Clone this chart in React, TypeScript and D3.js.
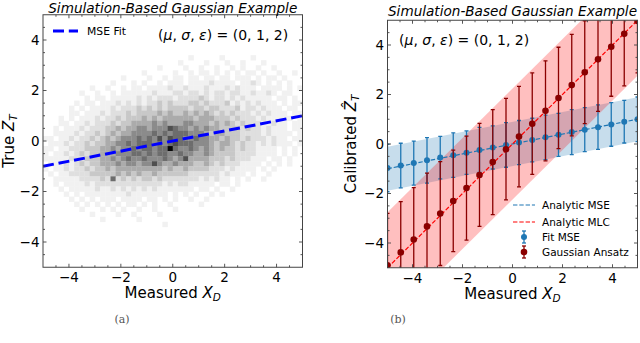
import React from 'react';
import * as d3 from 'd3';

// grid of measured values used for both fits (right panel)
const xGrid = [-5, -4.47, -3.95, -3.42, -2.89, -2.37, -1.84, -1.32, -0.79, -0.26, 0.26, 0.79, 1.32, 1.84, 2.37, 2.89, 3.42, 3.95, 4.47, 5];
const fitMse = [-0.97, -0.87, -0.77, -0.66, -0.55, -0.45, -0.35, -0.24, -0.14, -0.04, 0.06, 0.16, 0.27, 0.37, 0.48, 0.58, 0.68, 0.79, 0.9, 1.0];
const fitMseErr = [0.96, 0.9, 0.89, 0.92, 0.86, 0.9, 0.88, 0.91, 0.87, 0.9, 0.89, 0.88, 0.9, 0.87, 0.91, 0.89, 0.9, 0.88, 0.86, 0.9];
const ansatz = [-4.9, -4.38, -3.86, -3.33, -2.81, -2.3, -1.78, -1.25, -0.73, -0.21, 0.3, 0.82, 1.34, 1.86, 2.38, 2.9, 3.42, 3.93, 4.45, 4.97];
const ansatzErr = [2.1, 2.05, 2.1, 2.15, 2.1, 2.05, 2.1, 2.08, 2.12, 2.05, 2.03, 2.05, 2.02, 2.05, 2.05, 2.08, 2.1, 2.0, 2.1, 2.1];

// analytic curves and their bands
const analyticX = [-5, 5];
const analyticMse = [-1, 1];
const analyticMlc = [-5, 5];
const mseBandHalf = 0.89;
const mlcBandHalf = 2.24;

// MSE fit line on the left panel
const mseFitX = [-5, 5];
const mseFitY = [-1, 1];

const majorTicks = [-4, -2, 0, 2, 4];
const minorTicks = [-4.5, -3.5, -3, -2.5, -1.5, -1, -0.5, 0.5, 1, 1.5, 2.5, 3, 3.5, 4.5];

// 2D histogram, rows from top (y=3.4) downward, 50 bins of 0.2 across x in [-5,5]; digit = shade 0..9
const histTop = 3.4;
const histLeft = -5;
const histBin = 0.2;
const histRows = [
  '0000000000 0000000000 0000000010 0000100000 1000000000',
  '0000000000 0000000000 0000001000 0100010010 0010000000',
  '0000000000 0000000000 0010000100 1001001010 0100100000',
  '0000000000 0000000001 0000010010 1101010101 1010010010',
  '0000000000 0000010000 1001011011 0110110111 0101101000',
  '0000000000 0001000101 0010111011 1121111011 2101010100',
  '0000000001 0010010110 1111211211 1211121211 1011110101',
  '0000000100 1001011111 1211122122 1212212211 2112101100',
  '0000000010 1101111121 2122212222 3212212121 1111011010',
  '0000001011 0111212121 2232322233 2322231212 1211101011',
  '0000010101 1112122232 3232333323 3233222312 2121110110',
  '0000011011 1212223233 3343433434 3432323222 1212111011',
  '0001010111 2122323334 3434444443 4443332322 2121111101',
  '0001101121 2223233444 4545444554 4434343232 2211211011',
  '0010111212 2233434455 4555765545 4544333323 2212111011',
  '0011112122 3234344555 5656566655 5434433322 2212111101',
  '1101121223 2343455565 6575766556 5544343323 2221211011',
  '0111212232 3344556566 6565676665 5543443232 2121211101',
  '1101122233 3445455656 6566965565 4543433232 2111101010',
  '1011212323 3444555665 6566556554 4543333222 2111101010',
  '1111122233 3445456556 5556545744 4433323222 1110110100',
  '0111212323 3444545545 5754454443 3432322211 1101010100',
  '1011212232 3343444444 4443433433 3322212111 1010100000',
  '0101122223 3333434343 3433333322 2222121110 1001000000',
  '0011111222 2326232323 3232222222 1212110101 0010000000',
  '0010111121 2222222222 2221212211 1110110100 0000000000',
  '0001011111 2112121212 1211111110 1101001000 0000000000',
  '0000101011 1111112111 1111010101 0010100000 0000000000',
  '0000010101 0111011110 1101010010 0100000000 0000000000',
  '0000001010 1010101101 0100100000 1000000000 0000000000',
  '0000000100 0101010010 0100010000 0000000000 0000000000',
  '0000000001 0000100100 0010000000 0000000000 0000000000',
  '0000000000 0100000010 0000000000 0000000000 0000000000',
  '0000000000 0000000000 0001000000 0000000000 0000000000',
];

const FONT = 'DejaVu Sans';
const frameColor = '#444';
const tabBlue = '#1f77b4';
const darkRed = '#8b0000';

const fmt = (v: number) => (v < 0 ? '\u2212' + Math.abs(v) : String(v));

function Frame({ x, y }: { x: d3.ScaleLinear<number, number>; y: d3.ScaleLinear<number, number> }) {
  const [x0, x1] = x.range();
  const [y0, y1] = y.range(); // y0 bottom, y1 top
  const tk = (v: number, len: number, key: string) => (
    <g key={key}>
      <line x1={x(v)} x2={x(v)} y1={y0} y2={y0 - len} />
      <line x1={x(v)} x2={x(v)} y1={y1} y2={y1 + len} />
      <line y1={y(v)} y2={y(v)} x1={x0} x2={x0 + len} />
      <line y1={y(v)} y2={y(v)} x1={x1} x2={x1 - len} />
    </g>
  );
  return (
    <g>
      <g stroke={frameColor} strokeWidth={0.9}>
        {majorTicks.map((v) => tk(v, 3.5, 'M' + v))}
        {minorTicks.map((v) => tk(v, 2, 'm' + v))}
      </g>
      <rect x={x0} y={y1} width={x1 - x0} height={y0 - y1} fill="none" stroke={frameColor} strokeWidth={1} />
      <g fontFamily={FONT} fontSize={13.5} fill="#000">
        {majorTicks.map((v) => (
          <text key={'xl' + v} x={x(v)} y={y0 + 15} textAnchor="middle">{fmt(v)}</text>
        ))}
        {majorTicks.map((v) => (
          <text key={'yl' + v} x={x0 - 3.5} y={y(v)} dy="0.36em" textAnchor="end">{fmt(v)}</text>
        ))}
      </g>
    </g>
  );
}

function Params({ x, y }: { x: number; y: number }) {
  return (
    <text x={x} y={y} fontFamily={FONT} fontSize={14}>
      (<tspan fontStyle="italic">μ</tspan>, <tspan fontStyle="italic">σ</tspan>, <tspan fontStyle="italic">ε</tspan>) = (0, 1, 2)
    </text>
  );
}

export default function App() {
  const W = 640, H = 343;

  // left panel
  const xL = d3.scaleLinear().domain([-5, 5]).range([43, 302.5]);
  const yL = d3.scaleLinear().domain([-5, 5]).range([267.25, 14.75]);
  // right panel
  const xR = d3.scaleLinear().domain([-5, 5]).range([387.5, 637.5]);
  const yR = d3.scaleLinear().domain([-5, 5]).range([267.75, 20.25]);

  const cells: { c: number; r: number; v: number }[] = [];
  histRows.forEach((row, r) => {
    row.replace(/ /g, '').split('').forEach((ch, c) => {
      const v = +ch;
      if (v > 0) cells.push({ c, r, v });
    });
  });
  const shade = (v: number) => d3.interpolateGreys((v / 9) * 0.97);

  const lineL = d3.line<number>().x((_, i) => xL(mseFitX[i])).y((d) => yL(d));
  const lineR = (ys: number[]) => d3.line<number>().x((_, i) => xR(analyticX[i])).y((d) => yR(d))(ys) || '';
  const band = (ys: number[], h: number) =>
    d3.area<number>().x((_, i) => xR(analyticX[i])).y0((d) => yR(d - h)).y1((d) => yR(d + h))(ys) || '';

  const errBars = (ys: number[], errs: number[], color: string, r: number, cap: number, k: string) => (
    <g key={k}>
      {ys.map((v, i) => (
        <g key={i} stroke={color} strokeWidth={1.3}>
          <line x1={xR(xGrid[i])} x2={xR(xGrid[i])} y1={yR(v - errs[i])} y2={yR(v + errs[i])} />
          <line x1={xR(xGrid[i]) - cap} x2={xR(xGrid[i]) + cap} y1={yR(v - errs[i])} y2={yR(v - errs[i])} />
          <line x1={xR(xGrid[i]) - cap} x2={xR(xGrid[i]) + cap} y1={yR(v + errs[i])} y2={yR(v + errs[i])} />
          <circle cx={xR(xGrid[i])} cy={yR(v)} r={r} fill={color} stroke="none" />
        </g>
      ))}
    </g>
  );

  const legX = 513, legTextX = 542;
  const legRows = [205, 222, 237, 252];

  return (
    <svg width={W} height={H} style={{ position: 'absolute', left: 0, top: 0, background: '#fff' }}>
      <defs>
        <clipPath id="clipL"><rect x={43} y={14.75} width={259.5} height={252.5} /></clipPath>
        <clipPath id="clipR"><rect x={387.5} y={20.25} width={250} height={247.5} /></clipPath>
      </defs>

      {/* ---- left panel ---- */}
      <g clipPath="url(#clipL)">
        {cells.map((d, i) => {
          const x0 = xL(histLeft + d.c * histBin);
          const y0 = yL(histTop - d.r * histBin);
          return (
            <rect key={i} x={x0} y={y0} width={xL(histLeft + (d.c + 1) * histBin) - x0 + 0.3}
              height={yL(histTop - (d.r + 1) * histBin) - y0 + 0.3} fill={shade(d.v)} />
          );
        })}
        <path d={lineL(mseFitY) || ''} fill="none" stroke="#0000ff" strokeWidth={3} strokeDasharray="11,4.8" />
      </g>
      <Frame x={xL} y={yL} />
      <text x={172.75} y={12.5} textAnchor="middle" fontFamily={FONT} fontStyle="italic" fontSize={13.6}>Simulation-Based Gaussian Example</text>
      <line x1={53} x2={78} y1={31} y2={31} stroke="#0000ff" strokeWidth={3} strokeDasharray="11,4.8" />
      <text x={87} y={31} dy="0.36em" fontFamily={FONT} fontSize={10.8}>MSE Fit</text>
      <Params x={158} y={40} />
      <text x={172.75} y={298} textAnchor="middle" fontFamily={FONT} fontSize={15}>
        Measured <tspan fontStyle="italic">X</tspan><tspan fontStyle="italic" fontSize={10.5} dy={3}>D</tspan>
      </text>
      <text transform="translate(14,141) rotate(-90)" textAnchor="middle" fontFamily={FONT} fontSize={15}>
        True <tspan fontStyle="italic">Z</tspan><tspan fontStyle="italic" fontSize={10.5} dy={3}>T</tspan>
      </text>

      {/* ---- right panel ---- */}
      <g clipPath="url(#clipR)">
        <path d={band(analyticMse, mseBandHalf)} fill={tabBlue} fillOpacity={0.25} />
        <path d={band(analyticMlc, mlcBandHalf)} fill="#ff0000" fillOpacity={0.25} />
        <path d={lineR(analyticMse)} fill="none" stroke={tabBlue} strokeWidth={1.2} strokeDasharray="4.4,1.9" />
        <path d={lineR(analyticMlc)} fill="none" stroke="#ff0000" strokeWidth={1.2} strokeDasharray="4.4,1.9" />
        {errBars(fitMse, fitMseErr, tabBlue, 3, 2, 'fit')}
        {errBars(ansatz, ansatzErr, darkRed, 3.3, 2, 'ans')}
      </g>
      <Frame x={xR} y={yR} />
      <text x={512.5} y={15.5} textAnchor="middle" fontFamily={FONT} fontStyle="italic" fontSize={13.6}>Simulation-Based Gaussian Example</text>
      <Params x={399} y={45} />
      <text x={512.5} y={299} textAnchor="middle" fontFamily={FONT} fontSize={15}>
        Measured <tspan fontStyle="italic">X</tspan><tspan fontStyle="italic" fontSize={10.5} dy={3}>D</tspan>
      </text>
      <text transform="translate(356,144) rotate(-90)" textAnchor="middle" fontFamily={FONT} fontSize={15}>
        Calibrated <tspan fontStyle="italic">Ẑ</tspan><tspan fontStyle="italic" fontSize={10.5} dy={3}>T</tspan>
      </text>

      {/* legend */}
      <g fontFamily={FONT} fontSize={10.5}>
        <line x1={legX} x2={legX + 22} y1={legRows[0]} y2={legRows[0]} stroke={tabBlue} strokeWidth={1.2} strokeDasharray="4.4,1.9" />
        <line x1={legX} x2={legX + 22} y1={legRows[1]} y2={legRows[1]} stroke="#ff0000" strokeWidth={1.2} strokeDasharray="4.4,1.9" />
        {[{ c: tabBlue, r: 3 }, { c: darkRed, r: 3.3 }].map((m, i) => (
          <g key={i} stroke={m.c} strokeWidth={1.3}>
            <line x1={legX + 11} x2={legX + 11} y1={legRows[2 + i] - 6} y2={legRows[2 + i] + 6} />
            <line x1={legX + 9} x2={legX + 13} y1={legRows[2 + i] - 6} y2={legRows[2 + i] - 6} />
            <line x1={legX + 9} x2={legX + 13} y1={legRows[2 + i] + 6} y2={legRows[2 + i] + 6} />
            <circle cx={legX + 11} cy={legRows[2 + i]} r={m.r} fill={m.c} stroke="none" />
          </g>
        ))}
        {['Analytic MSE', 'Analytic MLC', 'Fit MSE', 'Gaussian Ansatz'].map((t, i) => (
          <text key={t} x={legTextX} y={legRows[i]} dy="0.36em">{t}</text>
        ))}
      </g>

      {/* sub-captions */}
      <text x={122} y={323} textAnchor="middle" fontFamily="DejaVu Serif, serif" fontSize={11} fill="#555">(a)</text>
      <text x={398} y={323} textAnchor="middle" fontFamily="DejaVu Serif, serif" fontSize={11} fill="#555">(b)</text>
    </svg>
  );
}
